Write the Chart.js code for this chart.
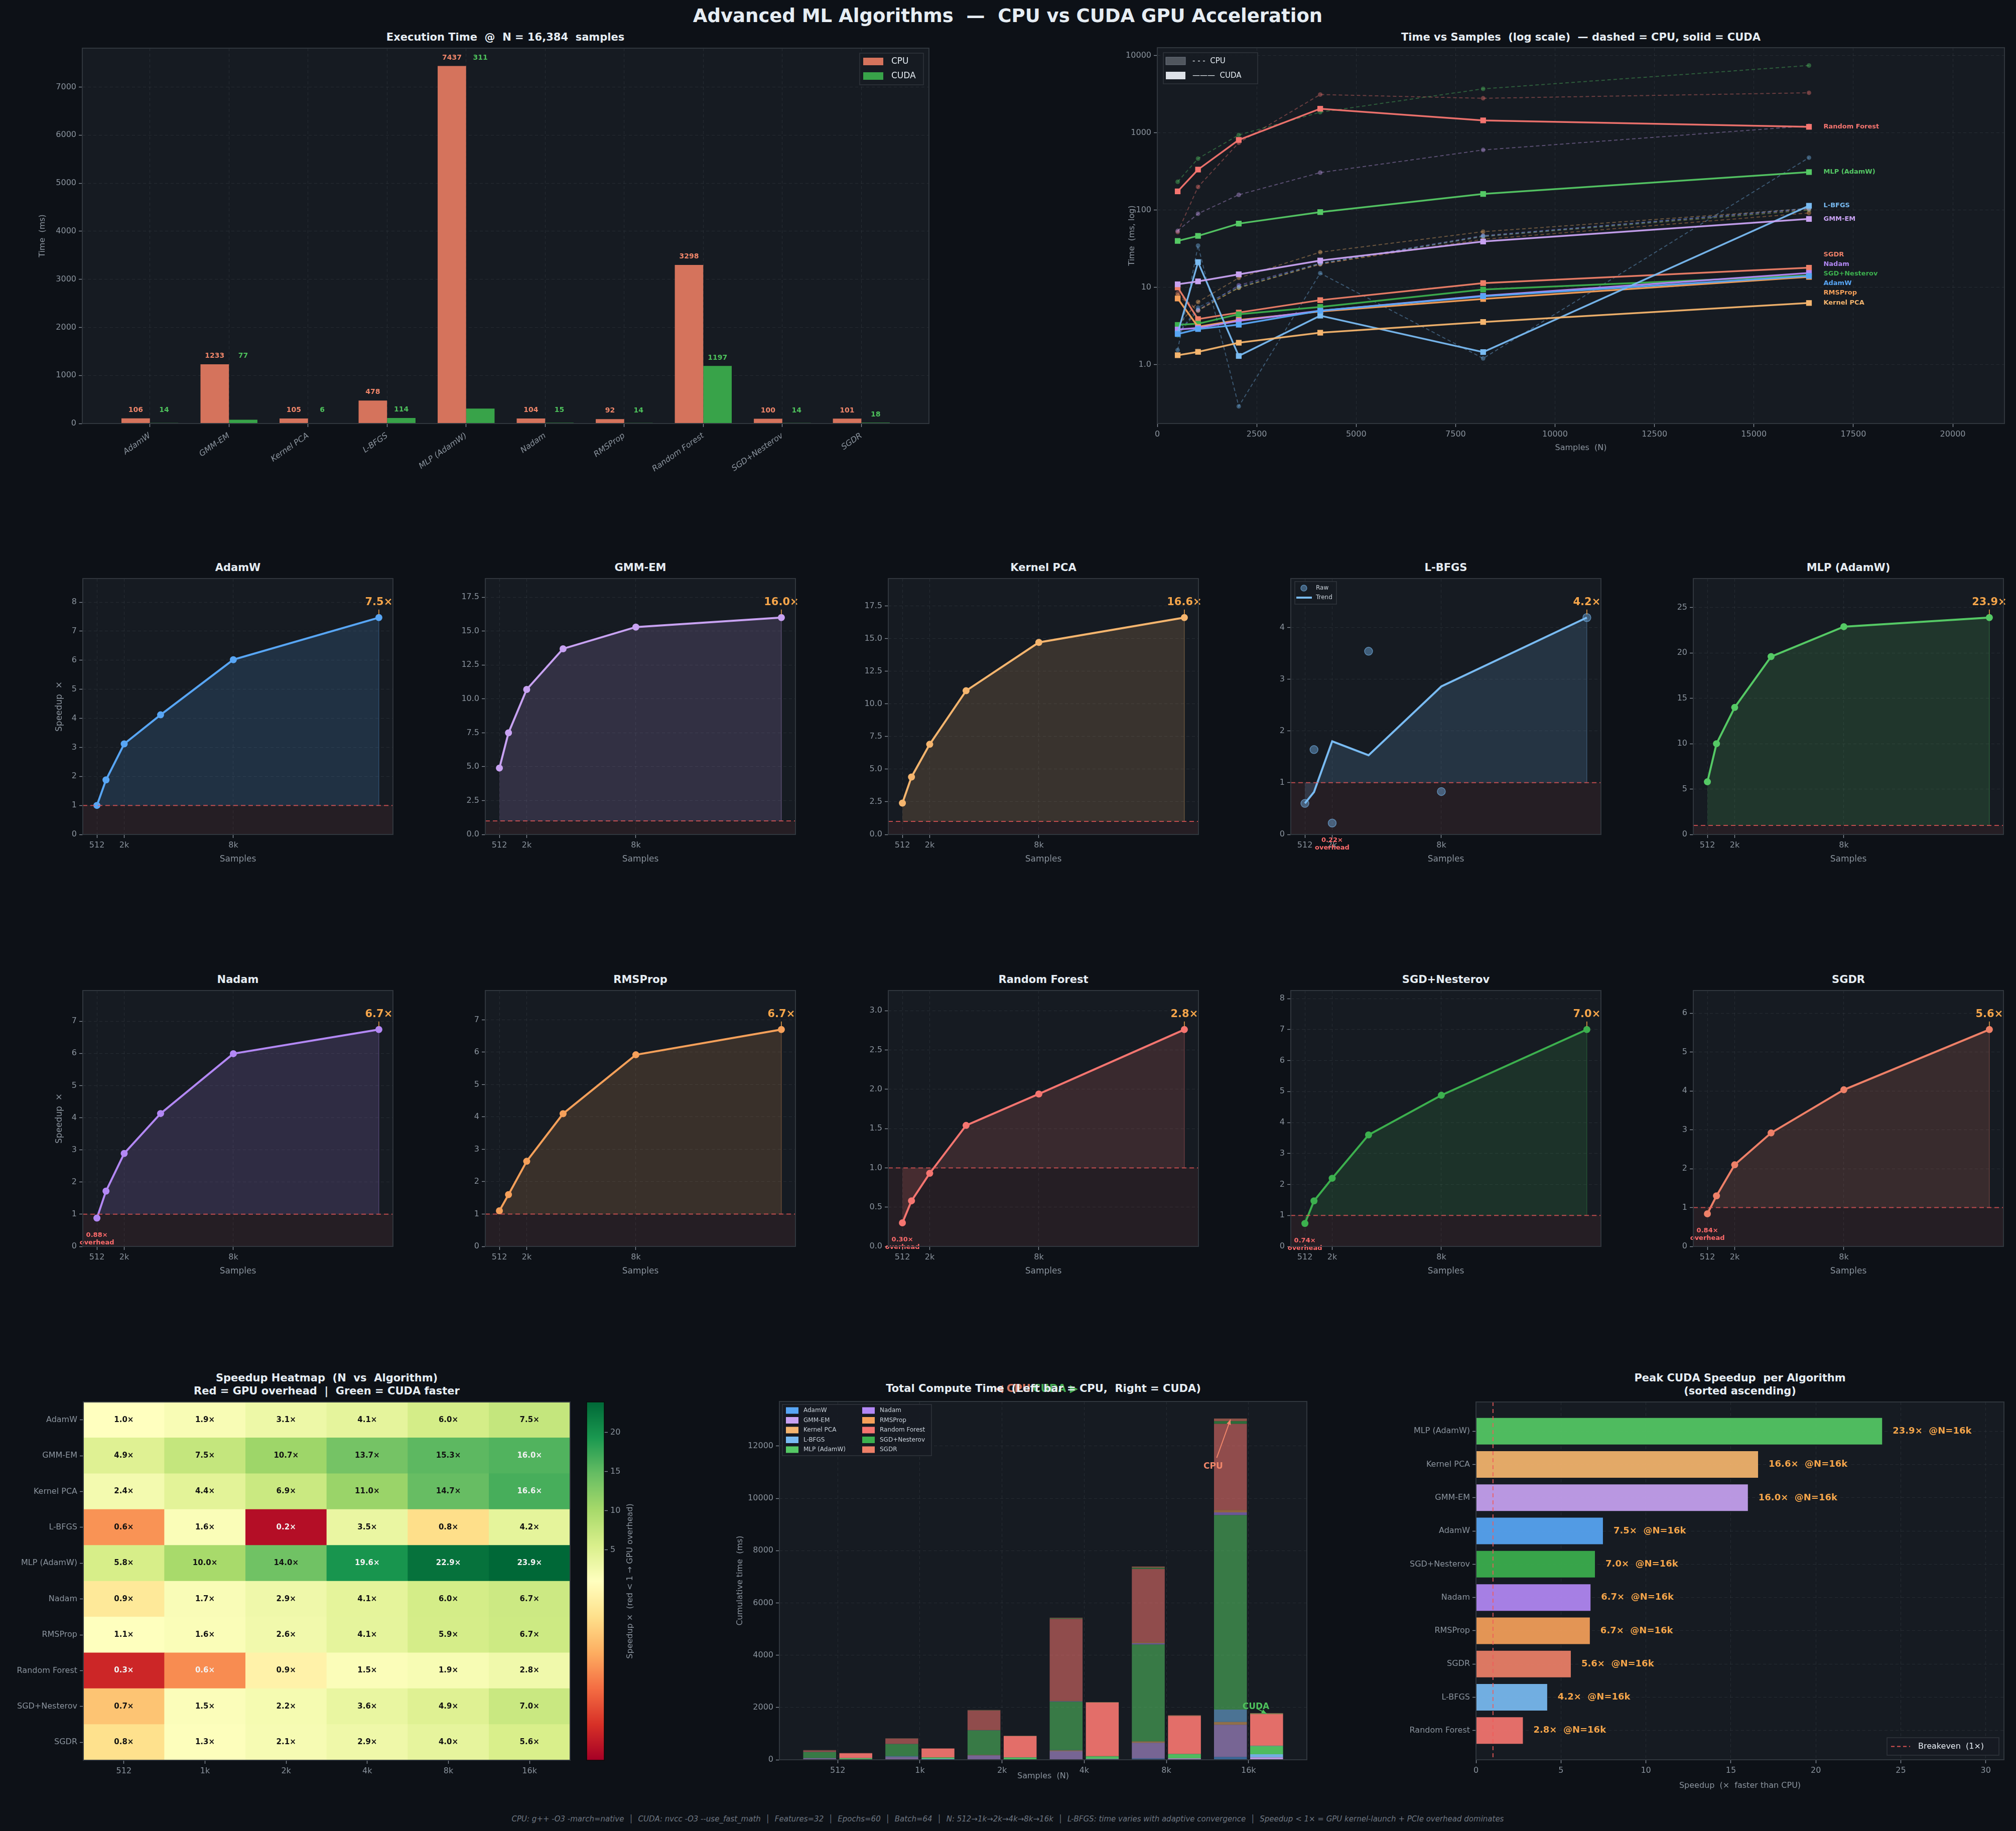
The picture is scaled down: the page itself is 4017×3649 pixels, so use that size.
<!DOCTYPE html>
<html><head><meta charset="utf-8"><title>Advanced ML Algorithms — CPU vs CUDA</title>
<script src="https://cdn.jsdelivr.net/npm/chart.js@4.4.1/dist/chart.umd.min.js"></script>
<style>
html,body{margin:0;padding:0;background:#0d1117;}
body{width:4017px;height:3649px;position:relative;overflow:hidden;font-family:"DejaVu Sans",sans-serif;}
canvas{position:absolute;display:block;}
.t{position:absolute;white-space:pre;transform:translate(-50%,-50%);line-height:1;color:#e6edf3;font-weight:bold;}
</style></head>
<body>
<script>
// ===================== DATA =====================
const ALGOS = ['AdamW','GMM-EM','Kernel PCA','L-BFGS','MLP (AdamW)','Nadam','RMSProp','Random Forest','SGD+Nesterov','SGDR'];
const N_SAMPLES = [512, 1024, 2048, 4096, 8192, 16384];
const N_LABELS  = ['512','1k','2k','4k','8k','16k'];

// CPU time (ms)
const cpuAdamW = [2.5, 5.5, 10.2, 20.5, 46, 106];
const cpuGMM   = [54, 90, 158, 306, 601, 1233];
const cpuKPCA  = [3.2, 6.5, 13.3, 28.6, 52.7, 105];
const cpuLBFGS = [1.55, 34.8, 0.29, 15.3, 1.21, 478];
const cpuMLP   = [233, 465, 940, 1850, 3710, 7437];
const cpuNadam = [2.5, 5.1, 10.7, 20.5, 47, 104];
const cpuRMS   = [7.9, 5.0, 9.9, 20.1, 42, 92];
const cpuRF    = [52, 200, 745, 3130, 2800, 3298];
const cpuSGDN  = [2.4, 5.1, 9.9, 20.2, 46, 100];
const cpuSGDR  = [8.4, 5.1, 9.95, 19.9, 45.5, 101];

// CUDA time (ms)
const cudaAdamW = [2.5, 2.9, 3.3, 5.0, 7.7, 14.1];
const cudaGMM   = [11.0, 12.0, 14.8, 22.3, 39.3, 77];
const cudaKPCA  = [1.33, 1.47, 1.93, 2.6, 3.58, 6.3];
const cudaLBFGS = [2.55, 21.3, 1.30, 4.32, 1.46, 114];
const cudaMLP   = [40, 46.5, 67, 94.4, 162, 311];
const cudaNadam = [2.86, 3.0, 3.7, 5.0, 7.8, 15.4];
const cudaRMS   = [7.2, 3.1, 3.8, 4.9, 7.1, 13.7];
const cudaRF    = [175, 335, 810, 2050, 1450, 1197];
const cudaSGDN  = [3.28, 3.4, 4.5, 5.6, 9.4, 14.3];
const cudaSGDR  = [10.0, 3.9, 4.74, 6.86, 11.4, 18];

// Speedup (CPU / CUDA)
const spdAdamW = [1.0, 1.88, 3.12, 4.12, 6.02, 7.47];
const spdGMM   = [4.9, 7.5, 10.7, 13.7, 15.3, 16.0];
const spdKPCA  = [2.4, 4.4, 6.9, 11.0, 14.7, 16.6];
const spdLBFGS = [0.60, 1.64, 0.22, 3.54, 0.83, 4.19];
const spdMLP   = [5.8, 10.0, 14.0, 19.6, 22.9, 23.9];
const spdNadam = [0.88, 1.72, 2.89, 4.13, 5.99, 6.74];
const spdRMS   = [1.1, 1.6, 2.63, 4.1, 5.92, 6.7];
const spdRF    = [0.30, 0.58, 0.93, 1.54, 1.94, 2.76];
const spdSGDN  = [0.74, 1.47, 2.2, 3.6, 4.88, 7.0];
const spdSGDR  = [0.84, 1.3, 2.1, 2.92, 4.03, 5.58];

// L-BFGS trend line (as drawn)
const lbfgsTrend = [0.60, 0.82, 1.80, 1.53, 2.86, 4.19];

const CPU  = [cpuAdamW, cpuGMM, cpuKPCA, cpuLBFGS, cpuMLP, cpuNadam, cpuRMS, cpuRF, cpuSGDN, cpuSGDR];
const CUDA = [cudaAdamW, cudaGMM, cudaKPCA, cudaLBFGS, cudaMLP, cudaNadam, cudaRMS, cudaRF, cudaSGDN, cudaSGDR];
const SPD  = [spdAdamW, spdGMM, spdKPCA, spdLBFGS, spdMLP, spdNadam, spdRMS, spdRF, spdSGDN, spdSGDR];

// ===================== STYLE =====================
const COLORS = ['#58a6f5','#c8a2f2','#f5b56e','#79bbf2','#55c965','#b388f5','#f5a05a','#f57570','#3cb04e','#ee8068'];
const AXBG='#161b22', SPINE='#30363d', GRID='rgba(139,148,158,0.14)', TICK='#8b949e', TXT='#e6edf3';
const ORANGE='#f5a54a';
const FONT='"DejaVu Sans", sans-serif';
Chart.defaults.font.family = FONT;
Chart.defaults.color = TICK;
const LAST = N_SAMPLES.length - 1;

function hexA(h,a){const n=parseInt(h.slice(1),16);return `rgba(${n>>16},${(n>>8)&255},${n&255},${a})`;}
function hex2rgb(h){const n=parseInt(h.slice(1),16);return [n>>16,(n>>8)&255,n&255];}
const range=(a,b,s=1)=>{const r=[];for(let v=a;v<=b+1e-9;v+=s)r.push(+v.toFixed(6));return r;};

function axis(o){
  const ax={
    type:o.type||'linear', position:o.position, min:o.min, max:o.max, reverse:!!o.reverse, offset:false,
    afterBuildTicks:(sc)=>{sc.ticks=o.ticks.map(v=>({value:v}));},
    ticks:{autoSkip:false,color:TICK,font:{size:o.fs||16,family:FONT,style:o.italic?'italic':'normal'},padding:o.pad||5,
      maxRotation:o.rot||0,minRotation:o.rot||0,callback:o.fmt||(v=>String(v))},
    grid:{offset:false,color:o.gridColor||GRID,lineWidth:o.gridW||1,drawTicks:true,tickLength:7,
      tickColor:TICK,tickWidth:1.3,drawOnChartArea:!o.noGrid},
    border:{display:false,dash:o.dash||[6,5]},
    z:o.z||0
  };
  if(o.stacked!==undefined) ax.stacked=o.stacked;
  return ax;
}

function mk(plot,m,cfg){
  const c=document.createElement('canvas');
  const W=Math.round(plot.w+m.l+m.r), H=Math.round(plot.h+m.t+m.b);
  c.width=W;c.height=H;
  c.style.left=(plot.x-m.l)+'px';c.style.top=(plot.y-m.t)+'px';
  c.style.width=W+'px';c.style.height=H+'px';
  document.body.appendChild(c);
  const o=cfg.options=cfg.options||{};
  o.responsive=false;o.animation=false;o.devicePixelRatio=1;o.events=[];
  o.plugins=Object.assign({legend:{display:false},tooltip:{enabled:false},title:{display:false}},o.plugins||{});
  let L=false,R=false,B=false,Tp=false;
  for(const s of Object.values(o.scales)){
    if(s.display===false) continue;
    if(s.position==='left')L=true;if(s.position==='right')R=true;if(s.position==='bottom')B=true;if(s.position==='top')Tp=true;
    s.afterFit=(sc)=>{
      const p=sc.options.position;
      if(p==='bottom')sc.height=m.b;else if(p==='top')sc.height=m.t;else if(p==='left')sc.width=m.l;else sc.width=m.r;
      sc.paddingLeft=sc.paddingRight=sc.paddingTop=sc.paddingBottom=0;
    };
  }
  o.layout={padding:{left:L?0:m.l,right:R?0:m.r,top:Tp?0:m.t,bottom:B?0:m.b}};
  return new Chart(c,cfg);
}

const frame={id:'frame',
  beforeDraw(ch){const a=ch.chartArea,c=ch.ctx;c.save();c.fillStyle=AXBG;c.fillRect(a.left,a.top,a.right-a.left,a.bottom-a.top);c.restore();},
  afterDraw(ch){const a=ch.chartArea,c=ch.ctx;c.save();c.strokeStyle=SPINE;c.lineWidth=2;c.strokeRect(a.left,a.top,a.right-a.left,a.bottom-a.top);c.restore();}
};

function T(c,s,x,y,o={}){
  c.save();c.font=`${o.style||'normal'} ${o.weight||'normal'} ${o.size||16}px ${FONT}`;
  c.fillStyle=o.color||TXT;c.textAlign=o.align||'center';c.textBaseline=o.base||'middle';
  if(o.rot){c.translate(x,y);c.rotate(o.rot);c.fillText(s,0,0);}else c.fillText(s,x,y);
  c.restore();
}
function arrow(c,x1,y1,x2,y2,col,lw=2){
  c.save();c.strokeStyle=col;c.fillStyle=col;c.lineWidth=lw;c.beginPath();c.moveTo(x1,y1);c.lineTo(x2,y2);c.stroke();
  const ang=Math.atan2(y2-y1,x2-x1),h=11;c.beginPath();c.moveTo(x2,y2);
  c.lineTo(x2-h*Math.cos(ang-0.4),y2-h*Math.sin(ang-0.4));c.lineTo(x2-h*Math.cos(ang+0.4),y2-h*Math.sin(ang+0.4));
  c.closePath();c.fill();c.restore();
}
function addText(s,x,y,size,opt={}){
  const d=document.createElement('div');d.className='t';d.textContent=s;
  d.style.left=x+'px';d.style.top=y+'px';d.style.fontSize=size+'px';
  if(opt.color)d.style.color=opt.color;
  if(opt.weight)d.style.fontWeight=opt.weight;
  if(opt.italic)d.style.fontStyle='italic';
  document.body.appendChild(d);
}

// RdYlGn colormap with two-slope norm centred at 1
const RDYLGN=['#a50026','#d73027','#f46d43','#fdae61','#fee08b','#ffffbf','#d9ef8b','#a6d96a','#66bd63','#1a9850','#006837'];
function rdylgn(t){t=Math.min(1,Math.max(0,t))*10;const k=Math.min(9,Math.floor(t)),f=t-k;const A=hex2rgb(RDYLGN[k]),B=hex2rgb(RDYLGN[k+1]);
  return `rgb(${Math.round(A[0]+(B[0]-A[0])*f)},${Math.round(A[1]+(B[1]-A[1])*f)},${Math.round(A[2]+(B[2]-A[2])*f)})`;}
const VMAX=Math.max(...SPD.flat()), VMIN=0.17;
function cnorm(v){return v>=1?0.5+0.5*(v-1)/(VMAX-1):0.5*Math.max(0,v-VMIN)/(1-VMIN);}

// ===================== TITLES =====================
addText('Advanced ML Algorithms  —  CPU vs CUDA GPU Acceleration',2008,31,37);
addText('Execution Time  @  N = 16,384  samples',1007,74,21);
addText('Time vs Samples  (log scale)  — dashed = CPU, solid = CUDA',3150,74,21);
addText('Speedup Heatmap  (N  vs  Algorithm)',651,2746,21);
addText('Red = GPU overhead  |  Green = CUDA faster',651,2772,21);
addText('◀ CPU',2018,2767,21,{color:'rgba(240,134,106,0.9)'});
addText('CUDA ▶',2103,2767,21,{color:'rgba(78,194,92,0.9)'});
addText('Total Compute Time  (Left bar = CPU,  Right = CUDA)',2079,2767,21);
addText('Peak CUDA Speedup  per Algorithm',3467,2746,21);
addText('(sorted ascending)',3467,2772,21);
addText('CPU: g++ -O3 -march=native  │  CUDA: nvcc -O3 --use_fast_math  │  Features=32  │  Epochs=60  │  Batch=64  │  N: 512→1k→2k→4k→8k→16k  │  L-BFGS: time varies with adaptive convergence  │  Speedup < 1× = GPU kernel-launch + PCIe overhead dominates',2008,3625,15,{color:'#6e7681',weight:'normal',italic:true});

// ===================== 1. Execution time bars =====================
(function(){
  const cpuL=CPU.map(r=>r[LAST]), cudaL=CUDA.map(r=>r[LAST]);
  const mx=Math.max(...cpuL);
  mk({x:164,y:96,w:1687,h:748},{l:110,t:30,r:20,b:150},{
    type:'bar',
    data:{datasets:[
      {data:ALGOS.map((a,i)=>({x:i,y:cpuL[i]})),backgroundColor:'#d5735c',borderWidth:0,categoryPercentage:0.72,barPercentage:1},
      {data:ALGOS.map((a,i)=>({x:i,y:cudaL[i]})),backgroundColor:'#38a349',borderWidth:0,categoryPercentage:0.72,barPercentage:1}
    ]},
    options:{scales:{
      x:axis({position:'bottom',min:-0.855,max:9.855,ticks:range(0,9),fmt:v=>ALGOS[v],rot:35,italic:true,pad:8}),
      y:axis({position:'left',min:0,max:mx*1.05,ticks:range(0,7000,1000)})
    }},
    plugins:[frame,{id:'exec',afterDatasetsDraw(ch){
      const c=ch.ctx,a=ch.chartArea,ys=ch.scales.y,m0=ch.getDatasetMeta(0),m1=ch.getDatasetMeta(1);
      const off=0.023*mx;
      ALGOS.forEach((al,i)=>{
        const cpu=cpuL[i],cu=cudaL[i],sp=SPD[i][LAST];
        T(c,String(Math.round(cpu)),m0.data[i].x,ys.getPixelForValue(cpu+off),{size:14,weight:'bold',color:'#f0866a'});
        T(c,String(Math.round(cu)),m1.data[i].x,ys.getPixelForValue((sp>6?cpu:cu)+off),{size:14,weight:'bold',color:'#4ec25c'});
      });
      const bx=a.right-138,by=a.top+10;
      c.save();c.fillStyle='rgba(22,27,34,0.85)';c.strokeStyle=SPINE;c.lineWidth=1.5;
      c.fillRect(bx,by,127,63);c.strokeRect(bx,by,127,63);
      c.fillStyle='#d5735c';c.fillRect(bx+7,by+9,40,15);
      c.fillStyle='#38a349';c.fillRect(bx+7,by+38,40,15);c.restore();
      T(c,'CPU',bx+63,by+17,{size:17,align:'left'});
      T(c,'CUDA',bx+63,by+46,{size:17,align:'left'});
      T(c,'Time  (ms)',a.left-79,(a.top+a.bottom)/2,{size:16,color:TICK,rot:-Math.PI/2});
    }}]
  });
})();

// ===================== 2. Log-scale time vs samples =====================
(function(){
  const ds=[];
  ALGOS.forEach((a,i)=>ds.push({data:N_SAMPLES.map((n,k)=>({x:n,y:CUDA[i][k]})),borderColor:hexA(COLORS[i],0.95),
    backgroundColor:COLORS[i],borderWidth:3.5,pointStyle:'rect',pointRadius:8,pointBorderWidth:0,
    pointBackgroundColor:COLORS[i],tension:0,fill:false}));
  ALGOS.forEach((a,i)=>ds.push({data:N_SAMPLES.map((n,k)=>({x:n,y:CPU[i][k]})),borderColor:hexA(COLORS[i],0.38),
    borderDash:[7,5],borderWidth:2,pointRadius:4.5,pointBorderWidth:0,pointBackgroundColor:hexA(COLORS[i],0.4),
    tension:0,fill:false}));
  const all=CPU.flat().concat(CUDA.flat());
  const tmin=Math.min(...all), tmax=Math.max(...all);
  mk({x:2306,y:95,w:1688,h:749},{l:90,t:30,r:30,b:80},{
    type:'line',
    data:{datasets:ds},
    options:{scales:{
      x:axis({position:'bottom',min:0,max:N_SAMPLES[LAST]*1.3,ticks:range(0,20000,2500)}),
      y:axis({type:'logarithmic',position:'left',min:tmin*0.6,max:tmax*1.7,ticks:[1,10,100,1000,10000],fmt:v=>v===1?'1.0':String(v)})
    }},
    plugins:[frame,{id:'logl',afterDatasetsDraw(ch){
      const c=ch.ctx,a=ch.chartArea,xs=ch.scales.x,ys=ch.scales.y;
      const items=ALGOS.map((al,i)=>({i,y:ys.getPixelForValue(CUDA[i][LAST])})).sort((p,q)=>p.y-q.y);
      const gap=18.8;
      for(let it=0;it<300;it++){
        for(let k=1;k<items.length;k++){const d=items[k].y-items[k-1].y;if(d<gap){const s=(gap-d)/2;items[k].y+=s;items[k-1].y-=s;}}
      }
      const lx=xs.getPixelForValue(N_SAMPLES[LAST])+29;
      items.forEach(o=>T(c,ALGOS[o.i],lx,o.y,{size:13,weight:'bold',color:COLORS[o.i],align:'left'}));
      const bx=a.left+12,by=a.top+10;
      c.save();c.fillStyle='rgba(22,27,34,0.85)';c.strokeStyle=SPINE;c.lineWidth=1.5;
      c.fillRect(bx,by,188,62);c.strokeRect(bx,by,188,62);
      c.fillStyle='#50565e';c.fillRect(bx+5,by+9,39,15);c.strokeStyle='#6e7681';c.lineWidth=1;c.strokeRect(bx+5,by+9,39,15);
      c.fillStyle='#dde2e8';c.fillRect(bx+5,by+38,39,15);c.restore();
      T(c,'- - -  CPU',bx+58,by+17,{size:15,align:'left'});
      T(c,'———  CUDA',bx+58,by+46,{size:15,align:'left'});
      T(c,'Samples  (N)',(a.left+a.right)/2,a.bottom+49,{size:16,color:TICK});
      T(c,'Time  (ms, log)',a.left-50,(a.top+a.bottom)/2,{size:16,color:TICK,rot:-Math.PI/2});
    }}]
  });
})();

// ===================== 3. Small multiples =====================
function niceStep(mx){for(const s of [0.1,0.2,0.25,0.5,1,2,2.5,5,10]) if(Math.floor(mx/s+1e-9)+1<=9) return s; return 10;}
const COLX=[165,967,1770,2572,3374], ROWY=[1153,1974], SMW=618, SMH=510;
ALGOS.forEach((name,i)=>{
  const col=i%5,row=Math.floor(i/5),clr=COLORS[i],sp=SPD[i];
  const isLB=name==='L-BFGS';
  const lineVals=isLB?lbfgsTrend:sp;
  const peak=Math.max(...sp), ymax=peak*1.18, step=niceStep(ymax);
  const span=N_SAMPLES[LAST]-N_SAMPLES[0];
  addText(name,COLX[col]+SMW/2,ROWY[row]-22,21);
  const ds=[{data:N_SAMPLES.map((n,k)=>({x:n,y:lineVals[k]})),borderColor:clr,borderWidth:4,
    backgroundColor:hexA(clr,0.16),fill:{value:1},pointRadius:isLB?0:7,pointBackgroundColor:clr,
    pointBorderWidth:0,tension:0}];
  if(isLB) ds.push({data:N_SAMPLES.map((n,k)=>({x:n,y:sp[k]})),showLine:false,pointRadius:8,
    pointBackgroundColor:hexA(clr,0.42),pointBorderColor:hexA(clr,0.6),pointBorderWidth:1.5,fill:false});
  const tickLab={512:'512',2048:'2k',8192:'8k'};
  mk({x:COLX[col],y:ROWY[row],w:SMW,h:SMH},{l:70,t:40,r:30,b:85},{
    type:'line',
    data:{datasets:ds},
    options:{clip:false,scales:{
      x:axis({position:'bottom',min:N_SAMPLES[0]-0.05*span,max:N_SAMPLES[LAST]+0.05*span,ticks:[512,2048,8192],fmt:v=>tickLab[v]}),
      y:axis({position:'left',min:0,max:ymax,ticks:range(0,ymax,step),fmt:v=>(step%1)?v.toFixed(1):String(Math.round(v))})
    }},
    plugins:[frame,{id:'sm',
      beforeDatasetsDraw(ch){
        const c=ch.ctx,a=ch.chartArea,ys=ch.scales.y;const y1=ys.getPixelForValue(1);
        c.save();c.fillStyle='rgba(248,81,73,0.065)';c.fillRect(a.left,y1,a.right-a.left,a.bottom-y1);c.restore();
      },
      afterDatasetsDraw(ch){
        const c=ch.ctx,a=ch.chartArea,xs=ch.scales.x,ys=ch.scales.y;
        const y1=ys.getPixelForValue(1);
        const px=xs.getPixelForValue(N_SAMPLES[LAST]),py=ys.getPixelForValue(lineVals[LAST]);
        c.save();
        c.strokeStyle=hexA(clr,0.3);c.lineWidth=1.5;c.beginPath();c.moveTo(px,py);c.lineTo(px,y1);c.stroke();
        c.strokeStyle='rgba(240,90,90,0.75)';c.lineWidth=2;c.setLineDash([9,6]);
        c.beginPath();c.moveTo(a.left,y1);c.lineTo(a.right,y1);c.stroke();
        c.setLineDash([]);c.strokeStyle=ORANGE;c.lineWidth=1.5;c.beginPath();c.moveTo(px,py-6);c.lineTo(px,py-16);c.stroke();
        c.restore();
        T(c,peak.toFixed(1)+'×',px,py-30,{size:21,weight:'bold',color:ORANGE});
        const mn=Math.min(...sp);
        if(mn<1){
          const k=sp.indexOf(mn),qx=xs.getPixelForValue(N_SAMPLES[k]),qy=ys.getPixelForValue(mn);
          T(c,mn.toFixed(2)+'×',qx,qy+34,{size:13,weight:'bold',color:'#ff6b6b'});
          T(c,'overhead',qx,qy+49,{size:13,weight:'bold',color:'#ff6b6b'});
        }
        if(isLB){
          const bx=a.left+8,by=a.top+6;
          c.save();c.fillStyle='rgba(22,27,34,0.85)';c.strokeStyle=SPINE;c.lineWidth=1.5;
          c.fillRect(bx,by,83,45);c.strokeRect(bx,by,83,45);
          c.fillStyle=hexA(clr,0.42);c.strokeStyle=hexA(clr,0.6);c.beginPath();c.arc(bx+18,by+13,6,0,Math.PI*2);c.fill();c.stroke();
          c.strokeStyle=clr;c.lineWidth=4;c.beginPath();c.moveTo(bx+3,by+32);c.lineTo(bx+34,by+32);c.stroke();c.restore();
          T(c,'Raw',bx+42,by+13,{size:12,color:'#c9d1d9',align:'left'});
          T(c,'Trend',bx+42,by+32,{size:12,color:'#c9d1d9',align:'left'});
        }
        T(c,'Samples',(a.left+a.right)/2,a.bottom+50,{size:17,color:TICK});
        if(col===0) T(c,'Speedup  ×',a.left-46,(a.top+a.bottom)/2,{size:17,color:TICK,rot:-Math.PI/2});
      }}]
  });
});

// ===================== 4. Heatmap =====================
(function(){
  const cells=[];
  ALGOS.forEach((a,r)=>N_SAMPLES.forEach((n,j)=>cells.push({x:j,y:[r-0.5,r+0.5],s:SPD[r][j]})));
  const hg='rgba(55,55,55,0.8)';
  mk({x:166,y:2794,w:970,h:714},{l:175,t:10,r:10,b:60},{
    type:'bar',
    data:{datasets:[{data:cells,backgroundColor:(ctx)=>ctx.raw?rdylgn(cnorm(ctx.raw.s)):'#000',
      borderWidth:0,categoryPercentage:1,barPercentage:1,borderSkipped:false}]},
    options:{scales:{
      x:axis({position:'bottom',min:-0.5,max:5.5,ticks:range(0,5),fmt:v=>N_LABELS[v],gridColor:hg,z:1,dash:[6,5]}),
      y:axis({position:'left',min:-0.5,max:9.5,reverse:true,ticks:range(0,9),fmt:v=>ALGOS[v],gridColor:hg,z:1,dash:[4,3]})
    }},
    plugins:[{id:'hm',afterDatasetsDraw(ch){
      const c=ch.ctx,xs=ch.scales.x,ys=ch.scales.y;
      cells.forEach(o=>{
        const r=(o.y[0]+o.y[1])/2;
        const light=o.s<0.6||o.s>15.5;
        T(c,o.s.toFixed(1)+'×',xs.getPixelForValue(o.x),ys.getPixelForValue(r),{size:15,weight:'bold',color:light?'#f2f2f2':'#111111'});
      });
    },afterDraw(ch){const a=ch.chartArea,c=ch.ctx;c.save();c.strokeStyle=SPINE;c.lineWidth=2;c.strokeRect(a.left,a.top,a.right-a.left,a.bottom-a.top);c.restore();}}]
  });
  mk({x:1169,y:2794,w:35,h:714},{l:2,t:6,r:125,b:6},{
    type:'scatter',
    data:{datasets:[{data:[]}]},
    options:{scales:{
      x:{display:false,min:0,max:1},
      y:axis({position:'right',min:1-(VMAX-1),max:VMAX,ticks:[5,10,15,20],noGrid:true})
    }},
    plugins:[{id:'cb',beforeDatasetsDraw(ch){
      const c=ch.ctx,a=ch.chartArea,h=a.bottom-a.top;
      for(let py=0;py<Math.ceil(h);py++){c.fillStyle=rdylgn(1-(py+0.5)/h);c.fillRect(a.left,a.top+py,a.right-a.left,1.2);}
      c.save();c.strokeStyle='#0a0a0a';c.lineWidth=1.5;c.strokeRect(a.left,a.top,a.right-a.left,h);c.restore();
      T(c,'Speedup ×  (red < 1 → GPU overhead)',a.right+52,(a.top+a.bottom)/2,{size:16,color:TICK,rot:-Math.PI/2});
    }}]
  });
})();

// ===================== 5. Stacked totals =====================
(function(){
  const ds=[];
  ALGOS.forEach((a,i)=>ds.push({stack:'cpu',data:N_SAMPLES.map((n,k)=>({x:k,y:CPU[i][k]})),backgroundColor:hexA(COLORS[i],0.55),
    borderWidth:0,categoryPercentage:0.88,barPercentage:0.91}));
  ALGOS.forEach((a,i)=>ds.push({stack:'cuda',data:N_SAMPLES.map((n,k)=>({x:k,y:CUDA[i][k]})),backgroundColor:hexA(COLORS[i],0.92),
    borderWidth:0,categoryPercentage:0.88,barPercentage:0.91}));
  const cpuTot=N_SAMPLES.map((n,k)=>CPU.reduce((s,r)=>s+r[k],0));
  const ymax=Math.max(...cpuTot)*1.05;
  mk({x:1553,y:2793,w:1051,h:714},{l:110,t:20,r:20,b:70},{
    type:'bar',
    data:{datasets:ds},
    options:{scales:{
      x:axis({position:'bottom',min:-0.71,max:5.71,ticks:range(0,5),fmt:v=>N_LABELS[v]}),
      y:axis({position:'left',min:0,max:ymax,ticks:range(0,12000,2000),stacked:true})
    }},
    plugins:[frame,{id:'st',afterDatasetsDraw(ch){
      const c=ch.ctx,a=ch.chartArea,xs=ch.scales.x,ys=ch.scales.y;
      const bx=a.left+6,by=a.top+6;
      c.save();c.fillStyle='rgba(22,27,34,0.9)';c.strokeStyle=SPINE;c.lineWidth=1.5;c.fillRect(bx,by,297,102);c.strokeRect(bx,by,297,102);c.restore();
      ALGOS.forEach((al,i)=>{
        const x=a.left+(i<5?13:165),y=a.top+18+(i%5)*19.5;
        c.fillStyle=COLORS[i];c.fillRect(x,y-6.5,25,13);
        T(c,al,x+35,y,{size:12,color:'#c9d1d9',align:'left'});
      });
      const topCpu=ch.getDatasetMeta(ALGOS.length-1).data[LAST], topCuda=ch.getDatasetMeta(2*ALGOS.length-1).data[LAST];
      const tx=xs.getPixelForValue(4.57),ty=ys.getPixelForValue(11225);
      arrow(c,tx+7,ty-17,topCpu.x,topCpu.y+2,'#f0866a',2);
      T(c,'CPU',tx,ty,{size:17,weight:'bold',color:'#f0866a'});
      const ux=xs.getPixelForValue(5.09),uy=ys.getPixelForValue(2025);
      arrow(c,ux+3,uy+4,topCuda.x,topCuda.y+1,'#4ec25c',1.5);
      T(c,'CUDA',ux,uy,{size:17,weight:'bold',color:'#4ec25c'});
      T(c,'Samples  (N)',(a.left+a.right)/2,a.bottom+33,{size:16,color:TICK});
      T(c,'Cumulative time  (ms)',a.left-78,(a.top+a.bottom)/2,{size:16,color:TICK,rot:-Math.PI/2});
    }}]
  });
})();

// ===================== 6. Peak speedup =====================
(function(){
  const peaks=SPD.map(r=>Math.max(...r));
  const order=ALGOS.map((a,i)=>i).sort((p,q)=>peaks[p]-peaks[q]);
  const xmax=Math.max(...peaks)*1.3;
  mk({x:2941,y:2794,w:1052,h:713},{l:175,t:20,r:20,b:80},{
    type:'bar',
    data:{datasets:[{data:order.map((i,k)=>({x:peaks[i],y:k})),backgroundColor:order.map(i=>hexA(COLORS[i],0.92)),
      borderWidth:0,categoryPercentage:0.8,barPercentage:1}]},
    options:{indexAxis:'y',scales:{
      x:axis({position:'bottom',min:0,max:xmax,ticks:range(0,30,5)}),
      y:axis({position:'left',min:-0.88,max:9.88,ticks:range(0,9),fmt:v=>ALGOS[order[v]]})
    }},
    plugins:[frame,{id:'pk',afterDatasetsDraw(ch){
      const c=ch.ctx,a=ch.chartArea,xs=ch.scales.x,meta=ch.getDatasetMeta(0);
      const bx1=xs.getPixelForValue(1);
      c.save();c.strokeStyle='rgba(240,90,90,0.85)';c.lineWidth=2;c.setLineDash([8,6]);
      c.beginPath();c.moveTo(bx1,a.top);c.lineTo(bx1,a.bottom);c.stroke();c.restore();
      order.forEach((i,k)=>{
        const el=meta.data[k];const kk=SPD[i].indexOf(peaks[i]);
        T(c,peaks[i].toFixed(1)+'×  @N='+N_LABELS[kk],el.x+21,el.y,{size:18,weight:'bold',color:ORANGE,align:'left'});
      });
      const lx=a.right-233,ly=a.bottom-44;
      c.save();c.fillStyle='rgba(22,27,34,0.9)';c.strokeStyle=SPINE;c.lineWidth=1.5;c.fillRect(lx,ly,223,35);c.strokeRect(lx,ly,223,35);
      c.strokeStyle='rgba(240,90,90,0.9)';c.lineWidth=2;c.setLineDash([7,5]);c.beginPath();c.moveTo(lx+8,ly+17.5);c.lineTo(lx+46,ly+17.5);c.stroke();c.restore();
      T(c,'Breakeven  (1×)',lx+62,ly+17.5,{size:16,align:'left'});
      T(c,'Speedup  (×  faster than CPU)',(a.left+a.right)/2,a.bottom+52,{size:16,color:TICK});
    }}]
  });
})();
</script>
</body></html>
